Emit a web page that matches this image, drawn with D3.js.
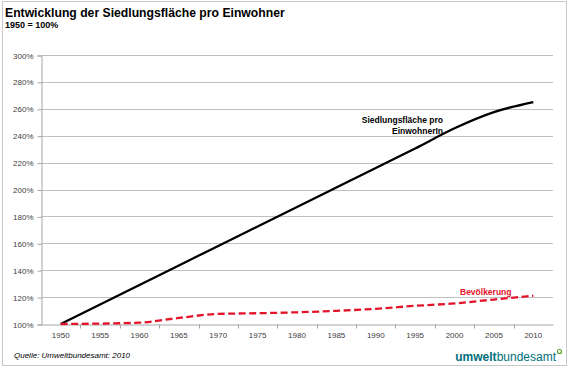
<!DOCTYPE html>
<html><head><meta charset="utf-8">
<script src="https://cdn.jsdelivr.net/npm/d3@7"></script>
<style>
html,body{margin:0;padding:0;background:#fff;}
svg{display:block;font-family:"Liberation Sans",Arial,sans-serif;}
</style></head>
<body>
<svg id="chart" width="570" height="369"></svg>
<script>
const years = ["1950","1955","1960","1965","1970","1975","1980","1985","1990","1995","2000","2005","2010"];
const siedlung = [100,114.5,129,143.5,158,172.5,187,201.5,216,230.5,245.5,257.5,265];
const bevoelkerung = [100,100.3,101,104.5,107.5,108,108.7,109.8,111.3,113.5,115.3,118.2,121];
const yTicks = [100,120,140,160,180,200,220,240,260,280,300];

const svg = d3.select("#chart");
const W = 570, H = 369;
const m = {left:41, right:17, top:55, bottom:45};
const pw = W - m.left - m.right; // 512
const ph = H - m.top - m.bottom; // 269

// outer frame
svg.append("rect").attr("x",2.5).attr("y",1.5).attr("width",564).attr("height",364)
  .attr("fill","#fff").attr("stroke","#c8c8c8").attr("stroke-width",1);

const x = d3.scaleBand().domain(years).range([m.left, m.left+pw]).padding(0);
const y = d3.scaleLinear().domain([100,300]).range([m.top+ph, m.top]);

// gridlines
svg.append("g").selectAll("line").data(yTicks.slice(1)).join("line")
  .attr("x1",m.left).attr("x2",m.left+pw)
  .attr("y1",d=>Math.round(y(d))+0.5).attr("y2",d=>Math.round(y(d))+0.5)
  .attr("stroke","#c0c0c0").attr("stroke-width",1);

// y axis
const yAxis = d3.axisLeft(y).tickValues(yTicks).tickFormat(d=>d+"%").tickSize(4).tickPadding(4);
const gy = svg.append("g").attr("transform",`translate(${m.left+0.5},0.5)`).call(yAxis);
gy.select(".domain").attr("stroke","#a6a6a6");
gy.selectAll(".tick line").attr("stroke","#a6a6a6");
gy.selectAll(".tick text").attr("fill","#404040").style("font-size","8px").attr("font-family","Liberation Sans, Arial, sans-serif");

// x axis
const xAxis = d3.axisBottom(x).tickSize(0).tickPadding(8);
const gx = svg.append("g").attr("transform",`translate(0,${Math.round(m.top+ph)+0.5})`).call(xAxis);
gx.select(".domain").attr("stroke","#a6a6a6");
gx.selectAll(".tick text").attr("fill","#404040").style("font-size","8px").attr("font-family","Liberation Sans, Arial, sans-serif");
// tick marks at band boundaries
gx.append("g").selectAll("line").data(years.slice(1)).join("line")
  .attr("x1",d=>Math.round(x(d))+0.5).attr("x2",d=>Math.round(x(d))+0.5)
  .attr("y1",0).attr("y2",4).attr("stroke","#a6a6a6");

const line = d3.line().x((d,i)=>x(years[i])+x.bandwidth()/2).y(d=>y(d)).curve(d3.curveMonotoneX);

svg.append("path").datum(siedlung).attr("d",line).attr("fill","none")
  .attr("stroke","#000").attr("stroke-width",2.3).attr("stroke-linejoin","round");
svg.append("path").datum(bevoelkerung).attr("d",line).attr("fill","none")
  .attr("stroke","#e3142a").attr("stroke-width",2.3).attr("stroke-dasharray","7,3.5");

// labels
svg.append("text").attr("x",443).attr("y",123).attr("text-anchor","end")
  .style("font-size","8.5px").style("font-weight","bold").attr("fill","#000").text("Siedlungsfläche pro");
svg.append("text").attr("x",443).attr("y",134).attr("text-anchor","end")
  .style("font-size","8.5px").style("font-weight","bold").attr("fill","#000").text("EinwohnerIn");
svg.append("text").attr("x",460).attr("y",295)
  .style("font-size","8.5px").style("font-weight","bold").attr("fill","#e3142a").text("Bevölkerung");

// titles
svg.append("text").attr("x",5).attr("y",17).style("font-size","12.2px").style("font-weight","bold")
  .attr("fill","#000").text("Entwicklung der Siedlungsfläche pro Einwohner");
svg.append("text").attr("x",5).attr("y",28).style("font-size","9px").style("font-weight","bold")
  .attr("fill","#000").text("1950 = 100%");

// source
svg.append("text").attr("x",14).attr("y",358).style("font-size","8px").style("font-style","italic")
  .attr("fill","#000").text("Quelle: Umweltbundesamt: 2010");

// logo
const logo = svg.append("text").attr("x",556).attr("y",361).attr("text-anchor","end")
  .style("font-size","12px").attr("fill","#006f7a");
logo.append("tspan").style("font-weight","bold").text("umwelt");
logo.append("tspan").text("bundesamt");
svg.append("circle").attr("cx",559.5).attr("cy",351.5).attr("r",2).attr("fill","none")
  .attr("stroke","#5aa02c").attr("stroke-width",1.2);
</script>
</body></html>
